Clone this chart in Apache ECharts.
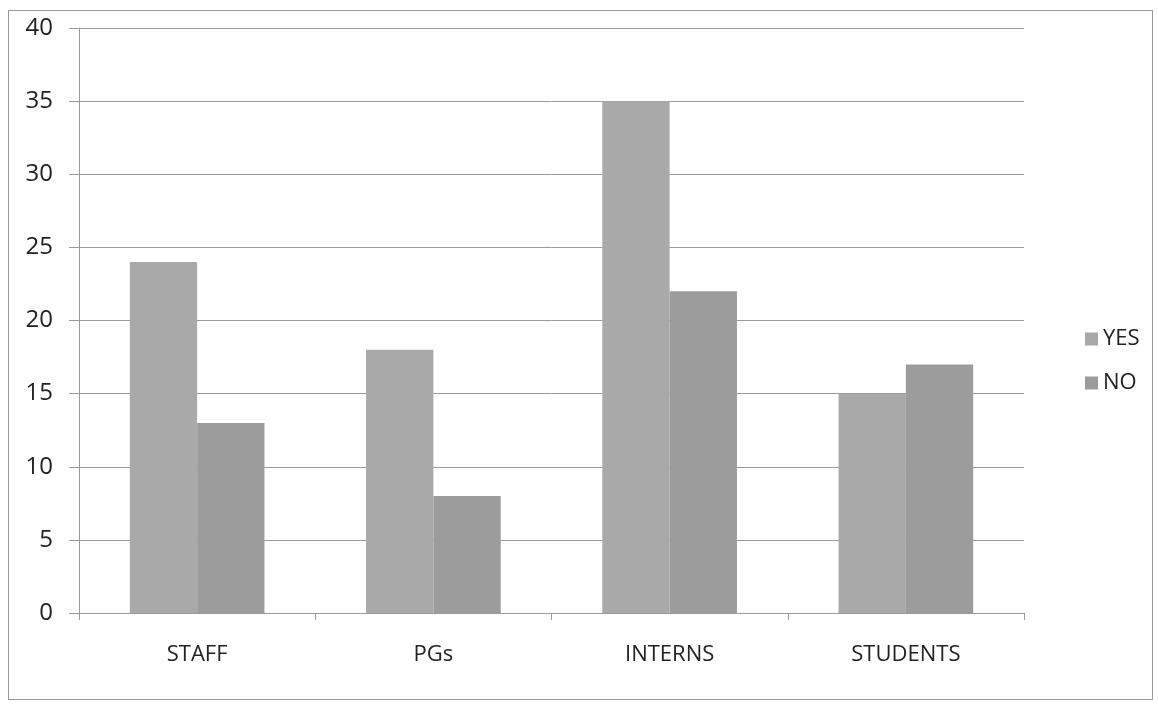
<!DOCTYPE html>
<html>
<head>
<meta charset="utf-8">
<script src="https://cdn.jsdelivr.net/npm/echarts@6/dist/echarts.min.js"></script>
<style>
  html, body { margin: 0; padding: 0; background: #ffffff; }
  #chart {
    position: absolute;
    left: 8px; top: 10px;
    width: 1145px; height: 690px;
    border: 1.5px solid #9a9a9a;
    box-sizing: border-box;
  }
</style>
</head>
<body>
<div id="chart"></div>
<script>
const categories = ['STAFF', 'PGs', 'INTERNS', 'STUDENTS'];
const yesValues = [24, 18, 35, 15];
const noValues = [13, 8, 22, 17];
const yTicks = [0, 5, 10, 15, 20, 25, 30, 35, 40];

const chart = echarts.init(document.getElementById('chart'));

const option = {
  backgroundColor: '#ffffff',
  animation: false,
  grid: { left: 70, right: 128, top: 17, bottom: 86, containLabel: false },
  legend: {
    orient: 'vertical',
    left: 1071,
    top: 312,
    itemWidth: 13,
    itemHeight: 13,
    itemGap: 22,
    icon: 'rect',
    textStyle: { fontFamily: 'Open Sans', fontSize: 22, color: '#222' },
    data: ['YES', 'NO']
  },
  xAxis: {
    type: 'category',
    data: categories,
    axisLine: { lineStyle: { color: '#9a9a9a', width: 1 } },
    axisTick: { show: true, length: 7, lineStyle: { color: '#9a9a9a' } },
    axisLabel: { fontFamily: 'Open Sans', fontSize: 22, color: '#222', margin: 31 }
  },
  yAxis: {
    type: 'value',
    min: 0,
    max: 40,
    interval: 5,
    axisLine: { show: true, lineStyle: { color: '#9a9a9a', width: 1 } },
    axisTick: { show: true, length: 10, lineStyle: { color: '#9a9a9a' } },
    axisLabel: {
      fontFamily: 'Open Sans', fontSize: 24, color: '#222', margin: 26,
      formatter: v => yTicks.includes(v) ? String(v) : ''
    },
    splitLine: { lineStyle: { color: '#9a9a9a', width: 1 } }
  },
  series: [
    {
      name: 'YES',
      type: 'bar',
      data: yesValues,
      barGap: '0%',
      barCategoryGap: '43%',
      itemStyle: { color: '#a9a9a9' }
    },
    {
      name: 'NO',
      type: 'bar',
      data: noValues,
      itemStyle: { color: '#9c9c9c' }
    }
  ]
};

chart.setOption(option);
</script>
</body>
</html>
